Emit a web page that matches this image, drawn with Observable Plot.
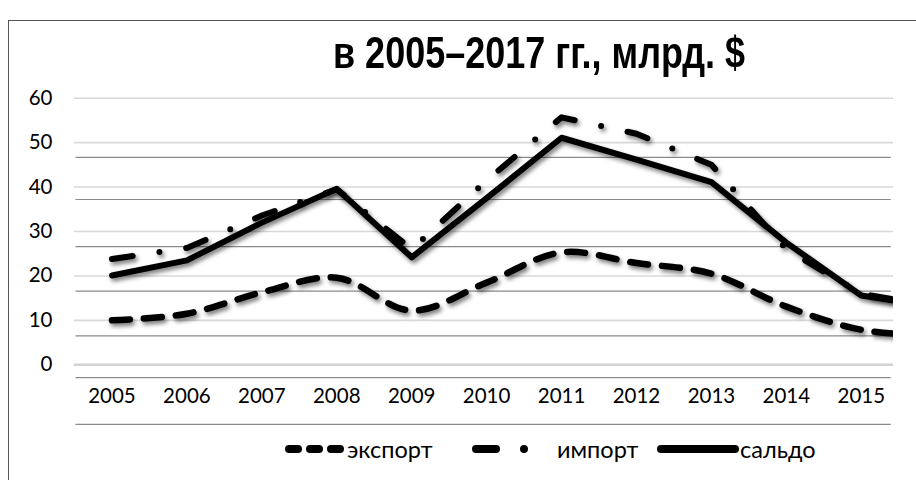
<!DOCTYPE html>
<html><head><meta charset="utf-8">
<script src="https://cdn.jsdelivr.net/npm/d3@7"></script>
<script src="https://cdn.jsdelivr.net/npm/@observablehq/plot@0.6"></script>
<style>
body{margin:0;background:#fff;}
#page{position:relative;width:916px;height:480px;overflow:hidden;background:#fff;font-family:Lato,"Noto Sans",sans-serif;}
#border{position:absolute;left:8px;top:20px;width:940px;height:500px;border-left:1.5px solid #555;border-top:1.5px solid #555;box-sizing:border-box;}
#title{position:absolute;left:333px;top:31px;font-family:"Liberation Sans",Arial,sans-serif;font-weight:bold;font-size:44px;line-height:1;white-space:nowrap;transform-origin:0 0;color:#000;}
#chart{position:absolute;left:0;top:80px;}
#chart svg text{font-size:20.5px !important;font-family:Lato,"Noto Sans",sans-serif !important;fill:#000;}
.lt{position:absolute;top:435px;font-size:23.5px;line-height:28px;color:#000;white-space:nowrap;}
.sw{position:absolute;top:442px;}
</style></head><body>
<div id="page">
  <div id="border"></div>
  <div id="title">в 2005–2017 гг., млрд. $</div>
  <div id="chart"></div>
  <div id="legend"></div>
</div>
<script>
// ---- data ----
const years = [2005, 2006, 2007, 2008, 2009, 2010, 2011, 2012, 2013, 2014, 2015, 2016];
const exportVals = [10, 11.5, 16.3, 19.6, 12.2, 18.5, 25.3, 22.9, 20.5, 13.1, 7.9, 6.5];
const importVals = [23.8, 26.3, 33.6, 39.5, 26, 41.5, 55.7, 52, 45, 26, 16, 13];
const saldoVals  = [20.1, 23.5, 32, 39.6, 24.2, 37.5, 51.1, 46.2, 41.1, 27.5, 15.6, 13];
const xTicks = [2005, 2006, 2007, 2008, 2009, 2010, 2011, 2012, 2013, 2014, 2015];
const yTicks = [0, 10, 20, 30, 40, 50, 60];
const ghostGrid = [46.7, 37.2, 26.6, 16.6, 6.5, -2.9, -13.4];
const seriesNames = ["экспорт", "импорт", "сальдо"];
const titleText = "в 2005–2017 гг., млрд. $";

const rows = s => years.map((y, i) => ({year: y, value: s[i]}));
const font = 'Lato, "Noto Sans", sans-serif';

const chart = Plot.plot({
  width: 916, height: 350,
  marginLeft: 74, marginRight: 23, marginTop: 17.7, marginBottom: 65.7,
  x: {domain: [2004.5, 2015.43], label: null},
  y: {domain: [0, 60], label: null},
  style: {fontFamily: font, fontSize: "20px", color: "#000", background: "transparent", overflow: "visible"},
  marks: [
    Plot.ruleY(yTicks.filter(d => d > 0), {stroke: "#d9d9d9", strokeWidth: 1.6}),
    Plot.ruleY([0], {stroke: "#d2d2d2", strokeWidth: 2.6}),
    Plot.ruleY(ghostGrid, {x1: 2004.52, x2: 2015.40, stroke: "#8a8a8a", strokeWidth: 1.2}),
    Plot.axisY({ticks: yTicks, tickSize: 0, tickPadding: 22, tickFormat: d => String(d), label: null, fontSize: 20}),
    Plot.axisX({ticks: xTicks, tickSize: 0, tickPadding: 24, tickFormat: d => String(d), label: null, fontSize: 20}),
    Plot.line(rows(exportVals), {x: "year", y: "value", stroke: "#000", strokeWidth: 6.5, strokeDasharray: "18,14", strokeLinecap: "round", curve: "catmull-rom", clip: true}),
    Plot.line(rows(importVals), {x: "year", y: "value", stroke: "#000", strokeWidth: 6, strokeDasharray: "21,27,0,27", strokeLinecap: "round", clip: true}),
    Plot.line(rows(saldoVals), {x: "year", y: "value", stroke: "#000", strokeWidth: 6, strokeLinecap: "round", strokeLinejoin: "round", clip: true})
  ]
});
chart.querySelectorAll('g[aria-label="line"]').forEach(g => g.style.filter = "drop-shadow(2px 3px 2px rgba(0,0,0,0.5))");
document.getElementById("chart").appendChild(chart);

// title fit
const t = document.getElementById("title");
t.textContent = titleText;
const w = t.getBoundingClientRect().width;
t.style.transform = `scaleX(${412 / w})`;

// legend
const leg = document.getElementById("legend");
const swatches = [
  {left: 285, w: 62, dash: "9,12", x2: 58, text: 347},
  {left: 472, w: 62, dash: "20,28,0,100", x2: 58, text: 557},
  {left: 657, w: 82, dash: null, x2: 78, text: 740}
];
swatches.forEach((s, i) => {
  const svg = d3.create("svg").attr("class", "sw").attr("width", s.w).attr("height", 14)
    .style("left", s.left + "px");
  const l = svg.append("line").attr("x1", 4).attr("x2", s.x2).attr("y1", 7).attr("y2", 7)
    .attr("stroke", "#000").attr("stroke-width", 8).attr("stroke-linecap", "round");
  if (s.dash) l.attr("stroke-dasharray", s.dash);
  leg.appendChild(svg.node());
  const sp = document.createElement("span");
  sp.className = "lt"; sp.style.left = s.text + "px"; sp.textContent = seriesNames[i];
  leg.appendChild(sp);
});
</script>
</body></html>
